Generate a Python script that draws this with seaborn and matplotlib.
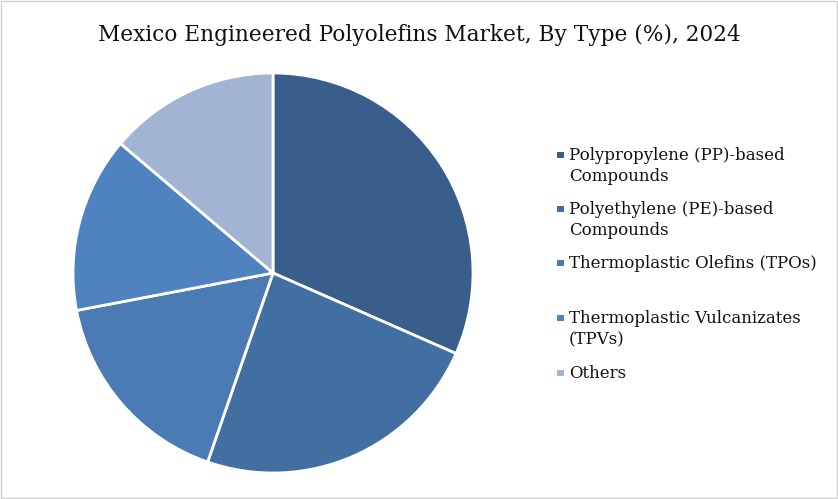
import matplotlib
matplotlib.use("Agg")
import matplotlib.pyplot as plt
import seaborn as sns
from matplotlib.patches import Rectangle

# data
types = [
    "Polypropylene (PP)-based\nCompounds",
    "Polyethylene (PE)-based\nCompounds",
    "Thermoplastic Olefins (TPOs)",
    "Thermoplastic Vulcanizates\n(TPVs)",
    "Others",
]
share = [31.6, 23.7, 16.7, 14.2, 13.8]
colors = ["#3A5E8C", "#426FA2", "#4A7BB4", "#4F83BF", "#A2B4D4"]

sns.set_theme(style="white")
plt.rcParams["font.family"] = ["DejaVu Serif"]

W, H = 838, 499
fig = plt.figure(figsize=(W / 100, H / 100), dpi=100)
fig.patch.set_facecolor("white")

# pie axes: center ~ (273, 273) px, radius ~200 px
ax = fig.add_axes([73 / W, (H - 473) / H, 400 / W, 400 / H])
wedges, _ = ax.pie(share, colors=colors, startangle=90, counterclock=False,
                   radius=1, wedgeprops=dict(edgecolor="white", linewidth=2))
ax.set_xlim(-1.0, 1.0)
ax.set_ylim(-1.0, 1.0)
ax.set_aspect("equal")
ax.axis("off")

fig.suptitle("Mexico Engineered Polyolefins Market, By Type (%), 2024",
             x=0.5, y=1 - 24 / H, fontsize=15.6, color="#111111")

# legend drawn by hand to keep the uneven spacing of the original
baselines_px = [160, 214, 268, 323, 378]   # first-line baselines
line_px = 21
for lab, col, yb in zip(types, colors, baselines_px):
    n_lines = lab.count("\n") + 1
    fig.add_artist(Rectangle((557 / W, 1 - (yb - 2) / H), 6.5 / W, 6.5 / H,
                             transform=fig.transFigure, facecolor=col,
                             edgecolor="none"))
    # va="baseline" anchors the last line of multi-line text
    fig.text(569 / W, 1 - (yb + (n_lines - 1) * line_px) / H, lab,
             va="baseline", ha="left", fontsize=12, color="#111111",
             linespacing=1.3)

# light grey outer border
fig.add_artist(Rectangle((0.0008, 0.0015), 0.9984, 0.997, transform=fig.transFigure,
                         fill=False, edgecolor="#D0D0D0", linewidth=1))

fig.savefig("out.png", dpi=100)
